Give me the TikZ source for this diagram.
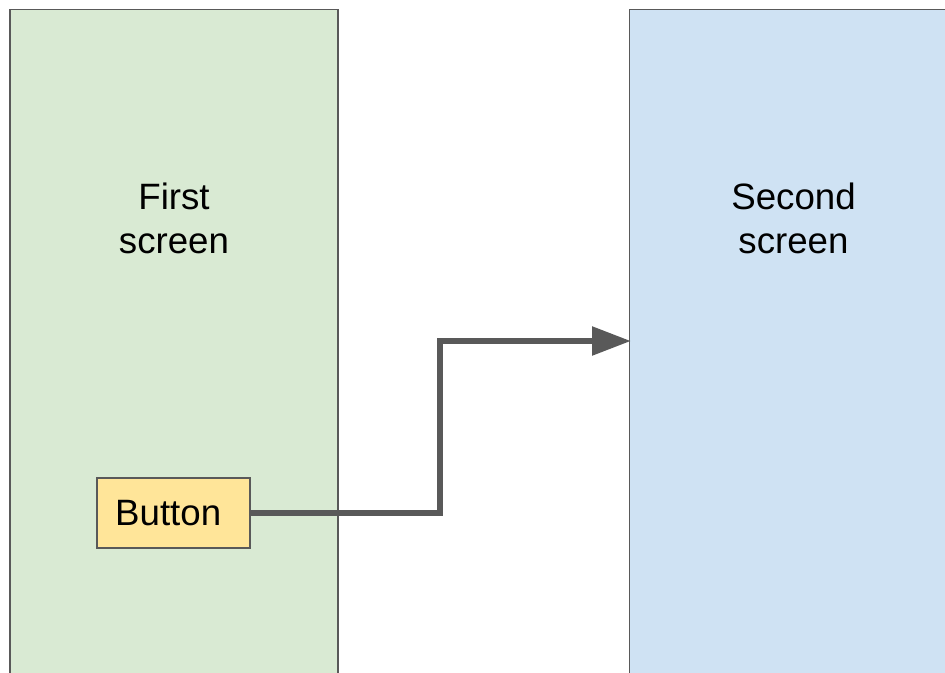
\documentclass[tikz,border=0pt]{standalone}
\usepackage{fontspec}
\setmainfont{Liberation Sans}
\usepackage{xcolor}
\usetikzlibrary{positioning, arrows.meta}

\definecolor{screenA}{HTML}{D9EAD3}
\definecolor{screenB}{HTML}{CFE2F3}
\definecolor{btnfill}{HTML}{FFE599}
\definecolor{edgegray}{HTML}{595959}

\tikzset{
  screen/.style={draw=edgegray, line width=1.1pt, minimum width=246pt, minimum height=563pt, inner sep=0pt},
  btnbox/.style={draw=edgegray, fill=btnfill, line width=1.1pt, minimum width=114.75pt, minimum height=52.5pt, inner sep=0pt, font=\fontsize{27.5}{33}\selectfont},
  caption/.style={align=center, font=\fontsize{27.5}{33}\selectfont},
  flow/.style={draw=edgegray, line width=4pt, -{Triangle[length=29pt, width=21pt]}, shorten >=-1.5pt}
}

\begin{document}
\begin{tikzpicture}[x=0.75pt, y=-0.75pt]
  \useasboundingbox (0,0) rectangle (945,672);
  \clip (0,0) rectangle (945,672);

  % Screens
  \node[screen, fill=screenA] (first) at (174,385) {};
  \node[screen, fill=screenB] (second) at (793.5,385) {};
  \node[caption] (firstlbl) at (174,218) {First\\screen};
  \node[caption] (secondlbl) at (793.5,218) {Second\\screen};

  % Button and link
  \node[btnbox] (btn) at (173.5,513) {\hspace*{-8pt}Button};
  \coordinate (bend) at (440,341);
  \draw[flow] (btn.east) -| (bend) -- (second.west |- bend);
\end{tikzpicture}
\end{document}
